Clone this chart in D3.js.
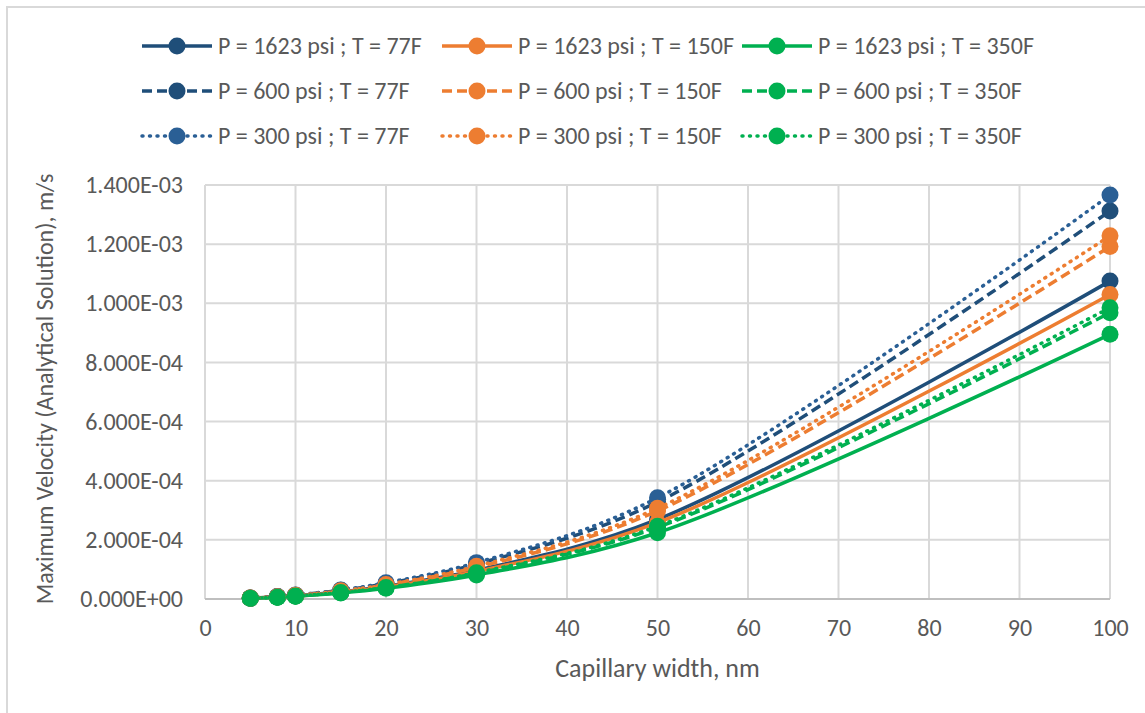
<!DOCTYPE html>
<html>
<head>
<meta charset="utf-8">
<script src="https://cdn.jsdelivr.net/npm/d3@7"></script>
<style>
  body { margin: 0; background: #fff; }
  svg { display: block; font-family: Carlito, Calibri, Lato, sans-serif; }
</style>
</head>
<body>
<svg id="chart" width="1145" height="713"></svg>
<script>
// capillary widths (nm)
const widths = [5, 8, 10, 15, 20, 30, 50, 100];

// max velocity m/s
const v1623_77  = [2.7e-6, 6.9e-6, 1.08e-5, 2.42e-5, 4.3e-5, 9.7e-5, 2.69e-4, 1.075e-3];
const v1623_150 = [2.6e-6, 6.6e-6, 1.03e-5, 2.32e-5, 4.1e-5, 9.3e-5, 2.58e-4, 1.030e-3];
const v1623_350 = [2.2e-6, 5.7e-6, 9.0e-6, 2.0e-5, 3.6e-5, 8.1e-5, 2.24e-4, 0.895e-3];
const v600_77   = [3.3e-6, 8.4e-6, 1.31e-5, 2.95e-5, 5.2e-5, 1.18e-4, 3.28e-4, 1.312e-3];
const v600_150  = [3.0e-6, 7.6e-6, 1.19e-5, 2.68e-5, 4.8e-5, 1.07e-4, 2.98e-4, 1.192e-3];
const v600_350  = [2.4e-6, 6.2e-6, 9.7e-6, 2.18e-5, 3.9e-5, 8.7e-5, 2.42e-4, 0.968e-3];
const v300_77   = [3.4e-6, 8.7e-6, 1.37e-5, 3.07e-5, 5.5e-5, 1.23e-4, 3.42e-4, 1.366e-3];
const v300_150  = [3.1e-6, 7.9e-6, 1.23e-5, 2.76e-5, 4.9e-5, 1.11e-4, 3.07e-4, 1.228e-3];
const v300_350  = [2.5e-6, 6.3e-6, 9.9e-6, 2.22e-5, 3.9e-5, 8.9e-5, 2.46e-4, 0.985e-3];

const seriesNames = [
  "P = 1623 psi ; T = 77F", "P = 1623 psi ; T = 150F", "P = 1623 psi ; T = 350F",
  "P = 600 psi ; T = 77F",  "P = 600 psi ; T = 150F",  "P = 600 psi ; T = 350F",
  "P = 300 psi ; T = 77F",  "P = 300 psi ; T = 150F",  "P = 300 psi ; T = 350F"
];
const seriesValues = [v1623_77, v1623_150, v1623_350, v600_77, v600_150, v600_350, v300_77, v300_150, v300_350];
const seriesColors = ["#1f4e79", "#ed7d31", "#00b050", "#1f4e79", "#ed7d31", "#00b050", "#2a5f95", "#ed7d31", "#00b050"];
const seriesDash = ["solid", "solid", "solid", "dash", "dash", "dash", "dot", "dot", "dot"];

const xTicks = d3.range(0, 101, 10);
const yTicks = d3.range(0, 8).map(i => i * 2e-4);

const svg = d3.select("#chart");
const textCol = "#595959";
const gridCol = "#d9d9d9";

// outer frame (only top/left visible in the crop)
svg.append("rect").attr("x", 7).attr("y", 7).attr("width", 1200).attr("height", 800)
  .attr("fill", "none").attr("stroke", gridCol).attr("stroke-width", 2);

const x = d3.scaleLinear().domain([0, 100]).range([205, 1110]);
const y = d3.scaleLinear().domain([0, 1.4e-3]).range([599, 185]);

function expFmt(v) {
  if (v === 0) return "0.000E+00";
  const s = v.toExponential(3).toUpperCase();
  const [m, e] = s.split("E");
  const sign = e[0] === "-" ? "-" : "+";
  const num = Math.abs(+e);
  return m + "E" + sign + (num < 10 ? "0" + num : num);
}

// grid
svg.append("g").selectAll("line").data(yTicks).join("line")
  .attr("x1", x(0)).attr("x2", x(100))
  .attr("y1", d => y(d)).attr("y2", d => y(d))
  .attr("stroke", gridCol).attr("stroke-width", 2);
svg.append("g").selectAll("line").data(xTicks).join("line")
  .attr("x1", d => x(d)).attr("x2", d => x(d))
  .attr("y1", y(0)).attr("y2", y(1.4e-3))
  .attr("stroke", gridCol).attr("stroke-width", 2);

// axes via d3 axis, then restyle
const yAxis = svg.append("g").attr("transform", `translate(${x(0)},0)`)
  .call(d3.axisLeft(y).tickValues(yTicks).tickFormat(expFmt).tickSize(0).tickPadding(22));
yAxis.select(".domain").remove();
yAxis.selectAll("text").attr("fill", textCol).style("font-size", "24px").style("font-family", "Carlito, Calibri, Lato, sans-serif");

const xAxis = svg.append("g").attr("transform", `translate(0,${y(0)})`)
  .call(d3.axisBottom(x).tickValues(xTicks).tickSize(0).tickPadding(20));
xAxis.select(".domain").remove();
xAxis.selectAll("text").attr("fill", textCol).style("font-size", "24px").style("font-family", "Carlito, Calibri, Lato, sans-serif");

svg.append("line").attr("x1", x(0)).attr("x2", x(100)).attr("y1", y(0)).attr("y2", y(0))
  .attr("stroke", "#bfbfbf").attr("stroke-width", 2);

// axis titles
svg.append("text").attr("x", (x(0) + x(100)) / 2).attr("y", 677).attr("text-anchor", "middle")
  .attr("fill", textCol).style("font-size", "26px").text("Capillary width, nm");
svg.append("text").attr("transform", `translate(53,${(y(0) + y(1.4e-3)) / 2 - 3}) rotate(-90)`)
  .attr("text-anchor", "middle").attr("fill", textCol).style("font-size", "24px")
  .text("Maximum Velocity (Analytical Solution), m/s");

function dashArr(t) {
  if (t === "dash") return "10,5";
  if (t === "dot") return "1,6.5";
  return null;
}

const line = d3.line().x(d => x(d[0])).y(d => y(d[1])).curve(d3.curveCatmullRom.alpha(0.5));

seriesValues.forEach((vals, i) => {
  const pts = widths.map((w, j) => [w, vals[j]]);
  const g = svg.append("g");
  g.append("path").datum(pts).attr("d", line)
    .attr("fill", "none").attr("stroke", seriesColors[i]).attr("stroke-width", 3.5)
    .attr("stroke-dasharray", dashArr(seriesDash[i]))
    .attr("stroke-linecap", seriesDash[i] === "dot" ? "round" : "butt");
  g.selectAll("circle").data(pts).join("circle")
    .attr("cx", d => x(d[0])).attr("cy", d => y(d[1])).attr("r", 8.5)
    .attr("fill", seriesColors[i]);
});

// legend
const legCols = [142, 442, 742];
const legRows = [46, 91, 136];
seriesNames.forEach((name, i) => {
  const cx = legCols[i % 3], cy = legRows[Math.floor(i / 3)];
  const g = svg.append("g");
  g.append("line").attr("x1", cx).attr("x2", cx + 70).attr("y1", cy).attr("y2", cy)
    .attr("stroke", seriesColors[i]).attr("stroke-width", 3.5)
    .attr("stroke-dasharray", dashArr(seriesDash[i]))
    .attr("stroke-linecap", seriesDash[i] === "dot" ? "round" : "butt");
  g.append("circle").attr("cx", cx + 35).attr("cy", cy).attr("r", 8.5).attr("fill", seriesColors[i]);
  g.append("text").attr("x", cx + 76).attr("y", cy + 8).attr("fill", textCol)
    .style("font-size", "24px").text(name);
});
</script>
</body>
</html>
